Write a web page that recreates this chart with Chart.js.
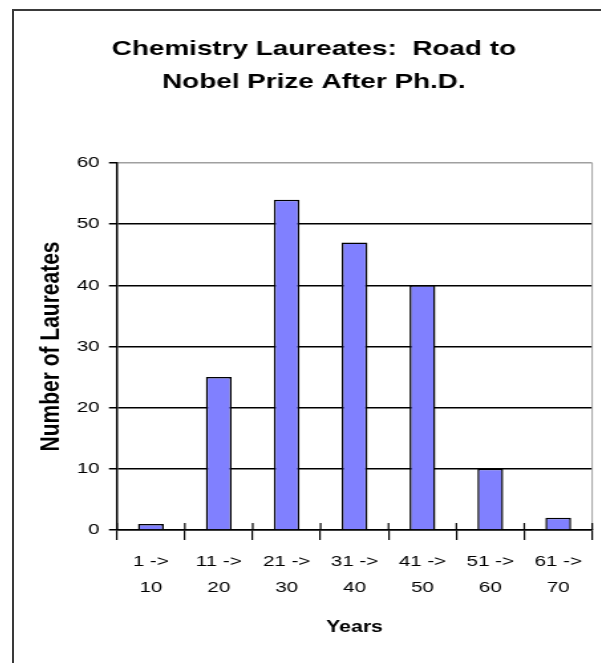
<!DOCTYPE html>
<html>
<head>
<meta charset="utf-8">
<title>Chemistry Laureates: Road to Nobel Prize After Ph.D.</title>
<script src="https://cdn.jsdelivr.net/npm/chart.js@4.4.1/dist/chart.umd.min.js"></script>
<style>
  html, body { margin: 0; padding: 0; background: #fff; overflow: hidden; width: 601px; height: 663px; }
  #frame { position: absolute; left: 12px; top: 9px; width: 700px; height: 700px; border: 2px solid #3a3a3a; }
</style>
</head>
<body>
<div id="frame"></div>
<!-- the original is a horizontally stretched Excel picture, so the canvas is drawn narrow and widened by css -->
<canvas id="chart" width="421" height="663" style="position:absolute;left:35px;top:0;width:559px;height:663px"></canvas>
<script>
const titleLines = ['Chemistry Laureates:  Road to', 'Nobel Prize After Ph.D.'];
const yearRanges = [
  ['1 ->', '10'],
  ['11 ->', '20'],
  ['21 ->', '30'],
  ['31 ->', '40'],
  ['41 ->', '50'],
  ['51 ->', '60'],
  ['61 ->', '70']
];
const laureates = [1, 25, 54, 47, 40, 10, 2];
const yMax = 60;
const yStep = 10;

Chart.defaults.font.family = 'Arial, "Liberation Sans", sans-serif';
Chart.defaults.color = '#000';

// grey right edge of the plot area + the little part of the x ticks above the axis
const plotFrame = {
  id: 'plotFrame',
  beforeDatasetsDraw(chart) {
    const { ctx, chartArea } = chart;
    const x = chart.scales.x;
    ctx.save();
    ctx.strokeStyle = '#a0a0a0';
    ctx.lineWidth = 1;
    ctx.beginPath();
    ctx.moveTo(chartArea.right, chartArea.top);
    ctx.lineTo(chartArea.right, chartArea.bottom);
    ctx.stroke();

    ctx.strokeStyle = '#000';
    ctx.lineWidth = 1.2;
    ctx.beginPath();
    for (let i = 0; i <= yearRanges.length; i++) {
      const px = x.getPixelForValue(i - 0.5);
      ctx.moveTo(px, chartArea.bottom - 7);
      ctx.lineTo(px, chartArea.bottom);
    }
    ctx.stroke();
    ctx.restore();
  }
};

new Chart(document.getElementById('chart'), {
  type: 'bar',
  data: {
    labels: yearRanges,
    datasets: [{
      data: laureates,
      backgroundColor: '#8080ff',
      borderColor: '#000',
      borderWidth: 1.5,
      barPercentage: 0.38,
      categoryPercentage: 1
    }]
  },
  options: {
    responsive: false,
    animation: false,
    devicePixelRatio: 1,
    layout: { padding: { left: 0, right: 1, top: 0, bottom: 0 } },
    plugins: {
      legend: { display: false },
      tooltip: { enabled: false },
      title: {
        display: true,
        text: titleLines,
        color: '#000',
        font: { size: 21, weight: 'bold', lineHeight: '33px' },
        padding: { top: 32.5, bottom: 64.5 }
      }
    },
    scales: {
      x: {
        grid: { drawOnChartArea: false, drawTicks: true, tickLength: 10, color: '#000', lineWidth: 1.2, offset: true },
        border: { color: '#000', width: 1.5 },
        ticks: { color: '#000', font: { size: 15.5, lineHeight: '26px' }, padding: 9, maxRotation: 0, autoSkip: false },
        title: {
          display: true,
          text: 'Years',
          color: '#000',
          font: { size: 16, weight: 'bold', lineHeight: 1.2 },
          padding: { top: 0, bottom: 26 }
        },
        afterFit: (scale) => { scale.height = 133; }
      },
      y: {
        min: 0,
        max: yMax,
        grid: {
          color: (ctx) => (ctx.tick && ctx.tick.value === yMax ? '#a0a0a0' : '#000'),
          tickColor: '#000',
          tickLength: 6,
          lineWidth: 1.5
        },
        border: { color: '#000', width: 1.5 },
        ticks: { stepSize: yStep, color: '#000', font: { size: 15.5 }, padding: 7 },
        title: {
          display: true,
          text: 'Number of Laureates',
          color: '#000',
          font: { size: 21, weight: 'bold', lineHeight: 1.2 },
          padding: { top: 0, bottom: 0 }
        },
        afterFit: (scale) => { scale.width = 61.7; }
      }
    }
  },
  plugins: [plotFrame]
});
</script>
</body>
</html>
